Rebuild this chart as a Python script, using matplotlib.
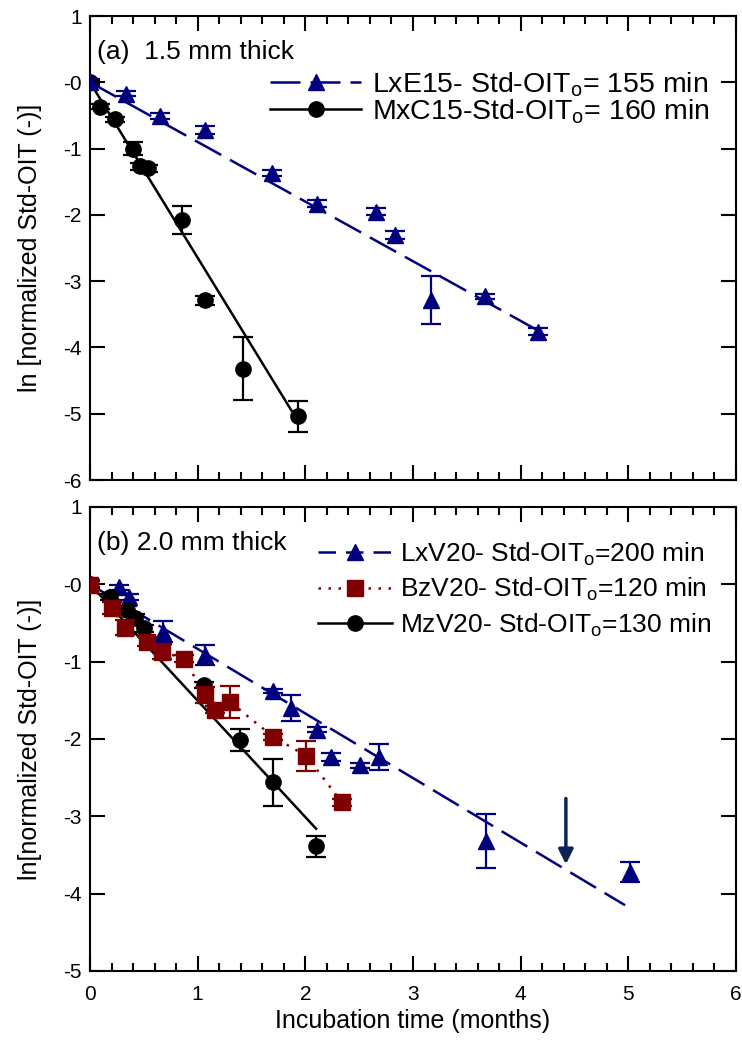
import matplotlib
matplotlib.use("Agg")
import matplotlib.pyplot as plt
from matplotlib.lines import Line2D
from matplotlib.ticker import MultipleLocator, FixedLocator

plt.rcParams["font.family"] = ["Liberation Sans", "DejaVu Sans"]
plt.rcParams["mathtext.default"] = "regular"

NAVY = "#00007f"
DARKRED = "#7f0000"
BLACK = "#000000"
ARROW = "#0d2356"

# ---- panel (a): 1.5 mm thick ----
lxe15_x = [0, 0.33, 0.65, 1.07, 1.69, 2.11, 2.66, 2.83, 3.17, 3.67, 4.16]
lxe15_y = [0, -0.17, -0.51, -0.72, -1.37, -1.83, -1.95, -2.30, -3.28, -3.23, -3.76]
lxe15_err = [0.05, 0.04, 0.05, 0.06, 0.05, 0.05, 0.05, 0.06, 0.36, 0.04, 0.06]
lxe15_fit_x = [0, 4.2]
lxe15_fit_y = [0, -3.78]

mxc15_x = [0, 0.09, 0.23, 0.40, 0.46, 0.54, 0.85, 1.07, 1.42, 1.93]
mxc15_y = [0, -0.37, -0.56, -1.00, -1.27, -1.30, -2.08, -3.29, -4.32, -5.04]
mxc15_err = [0.03, 0.04, 0.04, 0.10, 0.05, 0.05, 0.21, 0.07, 0.47, 0.23]
mxc15_fit_x = [0, 1.87]
mxc15_fit_y = [0, -4.95]

# ---- panel (b): 2.0 mm thick ----
lxv20_x = [0, 0.27, 0.36, 0.68, 1.07, 1.70, 1.87, 2.11, 2.24, 2.51, 2.68, 3.68, 5.02]
lxv20_y = [0, -0.04, -0.16, -0.61, -0.91, -1.38, -1.60, -1.88, -2.23, -2.34, -2.23, -3.32, -3.72]
lxv20_err = [0.05, 0.03, 0.04, 0.13, 0.13, 0.03, 0.17, 0.03, 0.05, 0.03, 0.17, 0.35, 0.13]
lxv20_fit_x = [0, 4.97]
lxv20_fit_y = [0, -4.15]

bzv20_x = [0, 0.20, 0.325, 0.53, 0.67, 0.87, 1.07, 1.16, 1.30, 1.70, 2.01, 2.34]
bzv20_y = [-0.01, -0.31, -0.56, -0.74, -0.87, -0.96, -1.43, -1.62, -1.52, -1.97, -2.22, -2.82]
bzv20_err = [0.06, 0.08, 0.10, 0.06, 0.10, 0.05, 0.10, 0.05, 0.21, 0.04, 0.19, 0.05]

mzv20_x = [0, 0.19, 0.34, 0.42, 0.50, 1.06, 1.39, 1.70, 2.10]
mzv20_y = [0, -0.16, -0.33, -0.44, -0.57, -1.30, -2.01, -2.56, -3.39]
mzv20_err = [0.04, 0.04, 0.05, 0.05, 0.05, 0.04, 0.14, 0.30, 0.13]
mzv20_fit_x = [0, 2.10]
mzv20_fit_y = [0, -3.16]

arrow_x = 4.42
arrow_y_start = -2.77
arrow_y_end = -3.62

top_yticks = [1, 0, -1, -2, -3, -4, -5, -6]
top_yticklabels = ["1", "-0", "-1", "-2", "-3", "-4", "-5", "-6"]
bot_yticks = [1, 0, -1, -2, -3, -4, -5]
bot_yticklabels = ["1", "-0", "-1", "-2", "-3", "-4", "-5"]
xticks = [0, 1, 2, 3, 4, 5, 6]

MS = 12
ERR_KW = dict(capsize=7, elinewidth=1.6, capthick=1.6, ls="none")
DASH = (12, 4)
DOT = (1, 3)


def style_axes(ax, yticks, ylabels, ylim):
    ax.set_xlim(0, 6)
    ax.set_ylim(*ylim)
    ax.xaxis.set_major_locator(FixedLocator(xticks))
    ax.xaxis.set_minor_locator(MultipleLocator(0.2))
    ax.yaxis.set_major_locator(FixedLocator(yticks))
    ax.set_yticklabels(ylabels)
    ax.tick_params(which="both", direction="in", top=True, right=True, width=1.5)
    ax.tick_params(which="major", length=11, labelsize=15, pad=6)
    ax.tick_params(which="minor", length=5.5)
    for sp in ax.spines.values():
        sp.set_linewidth(1.5)


fig = plt.figure(figsize=(7.42, 10.57), dpi=100)
ax1 = fig.add_axes([90 / 742, 1 - 480 / 1057, 646 / 742, 464 / 1057])
ax2 = fig.add_axes([90 / 742, 1 - 971 / 1057, 646 / 742, 464 / 1057])

# panel (a)
ax1.plot(mxc15_fit_x, mxc15_fit_y, color=BLACK, lw=1.8, zorder=2)
ax1.plot(lxe15_fit_x, lxe15_fit_y, color=NAVY, lw=1.8, ls="--", dashes=DASH, zorder=2)
ax1.errorbar(mxc15_x, mxc15_y, yerr=mxc15_err, fmt="o", color=BLACK, ms=MS - 1, zorder=3, **ERR_KW)
ax1.errorbar(lxe15_x, lxe15_y, yerr=lxe15_err, fmt="^", color=NAVY, ms=MS, zorder=4, **ERR_KW)
style_axes(ax1, top_yticks, top_yticklabels, (-6, 1))
ax1.tick_params(labelbottom=False)
ax1.set_ylabel("ln [normalized Std-OIT (-)]", fontsize=18)
ax1.yaxis.set_label_coords(-0.074, 0.5)
ax1.text(0.011, 0.922, "(a)  1.5 mm thick", transform=ax1.transAxes,
         fontsize=19, ha="left", va="center")

h_a = [
    Line2D([], [], color=NAVY, ls="--", dashes=DASH, lw=1.8, marker="^", ms=MS),
    Line2D([], [], color=BLACK, lw=1.8, marker="o", ms=MS - 1),
]
ax1.legend(h_a, ["LxE15- Std-OIT$_o$= 155 min", "MxC15-Std-OIT$_o$= 160 min"],
           loc="upper left", bbox_to_anchor=(0.279, 0.883), frameon=False,
           fontsize=20.5, handlelength=3.2, handletextpad=0.36, borderpad=0,
           borderaxespad=0, labelspacing=-0.05, numpoints=1)

# panel (b)
ax2.plot(lxv20_fit_x, lxv20_fit_y, color=NAVY, lw=1.8, ls="--", dashes=DASH, zorder=2)
ax2.plot(mzv20_fit_x, mzv20_fit_y, color=BLACK, lw=1.8, zorder=2)
ax2.plot(bzv20_x, bzv20_y, color=DARKRED, lw=1.8, ls=":", dashes=DOT, zorder=2)
ax2.errorbar(lxv20_x, lxv20_y, yerr=lxv20_err, fmt="^", color=NAVY, ms=MS, zorder=3, **ERR_KW)
ax2.errorbar(mzv20_x, mzv20_y, yerr=mzv20_err, fmt="o", color=BLACK, ms=MS - 1, zorder=4, **ERR_KW)
ax2.errorbar(bzv20_x, bzv20_y, yerr=bzv20_err, fmt="s", color=DARKRED, ms=MS - 1, zorder=5, **ERR_KW)
ax2.annotate("", xy=(arrow_x, arrow_y_end), xytext=(arrow_x, arrow_y_start),
             arrowprops=dict(arrowstyle="-|>", color=ARROW, lw=2.5, mutation_scale=22,
                             shrinkA=0, shrinkB=0))
style_axes(ax2, bot_yticks, bot_yticklabels, (-5, 1))
ax2.tick_params(which="major", axis="x", pad=10)
ax2.set_ylabel("ln[normalized Std-OIT (-)]", fontsize=18)
ax2.yaxis.set_label_coords(-0.074, 0.5)
ax2.set_xlabel("Incubation time (months)", fontsize=18, labelpad=4)
ax2.text(0.011, 0.922, "(b) 2.0 mm thick", transform=ax2.transAxes,
         fontsize=19, ha="left", va="center")

h_b = [
    Line2D([], [], color=NAVY, ls="--", dashes=(7, 4), lw=1.8, marker="^", ms=MS),
    Line2D([], [], color=DARKRED, ls=":", dashes=DOT, lw=1.8, marker="s", ms=MS - 1),
    Line2D([], [], color=BLACK, lw=1.8, marker="o", ms=MS - 1),
]
ax2.legend(h_b, ["LxV20- Std-OIT$_o$=200 min", "BzV20- Std-OIT$_o$=120 min",
                 "MzV20- Std-OIT$_o$=130 min"],
           loc="upper left", bbox_to_anchor=(0.353, 0.928), frameon=False,
           fontsize=19, handlelength=2.8, handletextpad=0.3, borderpad=0,
           borderaxespad=0, labelspacing=0.32, numpoints=1)

fig.savefig("out.png", dpi=100)
